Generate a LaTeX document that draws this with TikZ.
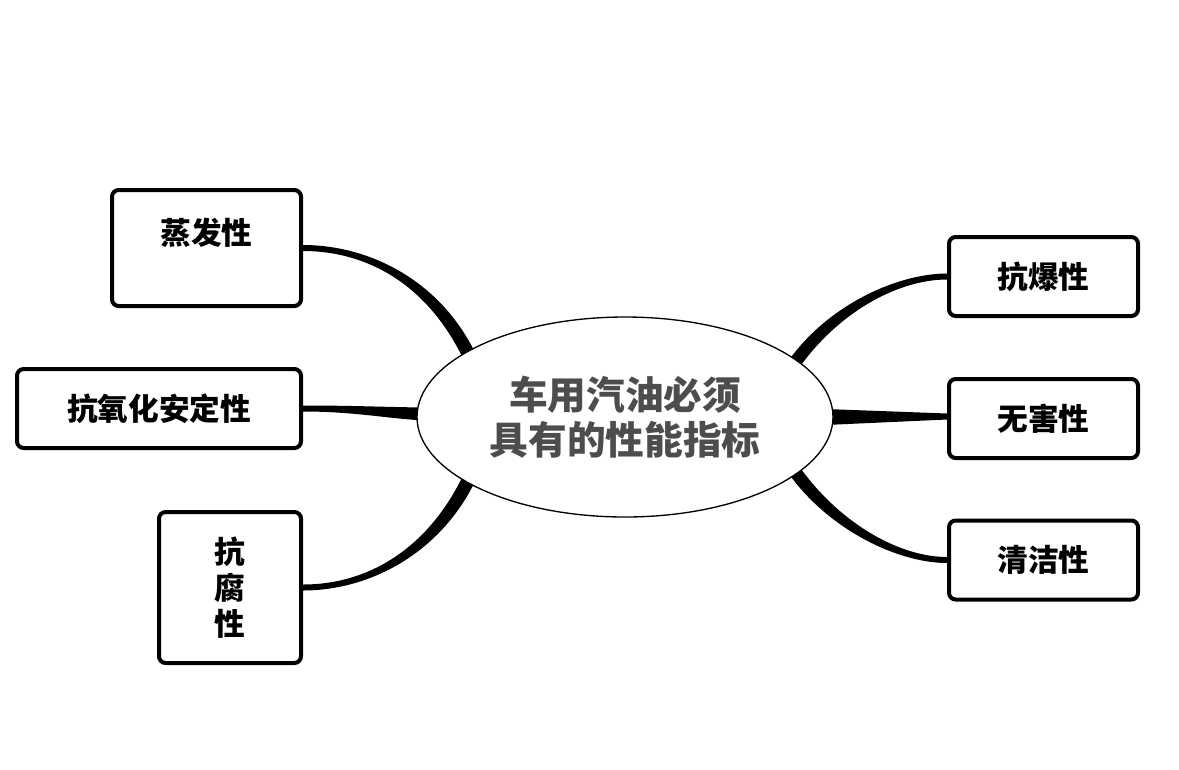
\documentclass[tikz,border=0pt]{standalone}
\usepackage{fontspec}
\usepackage{tikz}
\usetikzlibrary{calc,backgrounds,shapes.geometric}
\newfontfamily\cjk{Noto Sans CJK SC}
\definecolor{hubgray}{HTML}{4D4D4D}
\tikzset{
  propbox/.style={draw, line width=3pt, rounded corners=5pt, fill=white, inner sep=0pt,
    minimum width=141.75pt, minimum height=59.25pt,
    font=\cjk\bfseries\fontsize{23}{27}\selectfont},
  hubnode/.style={ellipse, draw, line width=1pt, fill=white, inner sep=0pt,
    minimum width=312pt, minimum height=150pt, align=center, text=hubgray,
    font=\cjk\bfseries\fontsize{29}{34}\selectfont}
}
\begin{document}
\begin{tikzpicture}[x=0.75pt,y=0.75pt,yscale=-1,xscale=1]
\useasboundingbox (0,0) rectangle (1179,769);

%Shape: Ellipse
\node [hubnode] (hub) at (625,417) {车用汽油必须\\具有的性能指标};
%Shape: Rectangles left
\node [propbox, minimum height=87pt, text height=40.5pt, text depth=46.5pt] (evap) at (206.5,248) {蒸发性};
\node [propbox, minimum width=213pt] (oxid) at (159,408.5) {抗氧化安定性};
\node [propbox, minimum width=106.5pt, minimum height=113.25pt, align=center] (corr) at (230,587.5) {抗\\腐\\性};
%Shape: Rectangles right
\node [propbox] (knock) at (1043.5,276.5) {抗爆性};
\node [propbox] (harm) at (1043.5,418.5) {无害性};
\node [propbox] (clean) at (1043.5,560) {清洁性};

%ends inside the ellipse
\coordinate (e1) at ($(hub.center)!0.92!(hub.160)$);
\coordinate (e2) at ($(hub.west)+(7,-3)$);
\coordinate (e3) at ($(hub.center)!0.92!(hub.200)$);
\coordinate (e4) at ($(hub.center)!0.92!(hub.16)$);
\coordinate (e5) at ($(hub.east)+(-8,0)$);
\coordinate (e6) at ($(hub.center)!0.92!(hub.-16)$);

\begin{pgfonlayer}{background}
\fill [white] (0,0) rectangle (1179,769);
%Curve Lines: evap
\fill ($(evap.east)+(0,-3)$) .. controls ($(evap.east)+(67,-3)$) and ($(e1)+(-29,-80)$) .. ($(e1)+(6,-3)$) -- ($(e1)+(-6,3)$) .. controls ($(e1)+(-41,-74)$) and ($(evap.east)+(67,3)$) .. ($(evap.east)+(0,3)$) -- cycle;
%Curve Lines: oxid
\fill ($(oxid.east)+(0,-3)$) .. controls ($(oxid.east)+(50,-3)$) and ($(e2)+(-40,-7)$) .. ($(e2)+(0,-6.5)$) -- ($(e2)+(0,6.5)$) .. controls ($(e2)+(-40,4)$) and ($(oxid.east)+(50,3)$) .. ($(oxid.east)+(0,3)$) -- cycle;
%Curve Lines: corr
\fill ($(corr.east)+(0,-3)$) .. controls ($(corr.east)+(67,-3)$) and ($(e3)+(-41,74)$) .. ($(e3)+(-6,-3)$) -- ($(e3)+(6,3)$) .. controls ($(e3)+(-29,80)$) and ($(corr.east)+(67,3)$) .. ($(corr.east)+(0,3)$) -- cycle;
%Curve Lines: knock
\fill ($(knock.west)+(0,3)$) .. controls ($(knock.west)+(-50,3)$) and ($(e4)+(45,-56)$) .. ($(e4)+(5,4)$) -- ($(e4)+(-5,-4)$) .. controls ($(e4)+(35,-64)$) and ($(knock.west)+(-50,-3)$) .. ($(knock.west)+(0,-3)$) -- cycle;
%Straight Lines: harm
\fill ($(harm.west)+(0,-5)$) -- ($(e5)+(0,-8)$) -- ($(e5)+(0,8)$) -- ($(harm.west)+(0,1)$) -- cycle;
%Curve Lines: clean
\fill ($(clean.west)+(0,3)$) .. controls ($(clean.west)+(-50,3)$) and ($(e6)+(35,64)$) .. ($(e6)+(-5,4)$) -- ($(e6)+(5,-4)$) .. controls ($(e6)+(45,56)$) and ($(clean.west)+(-50,-3)$) .. ($(clean.west)+(0,-3)$) -- cycle;
\end{pgfonlayer}

\end{tikzpicture}
\end{document}
